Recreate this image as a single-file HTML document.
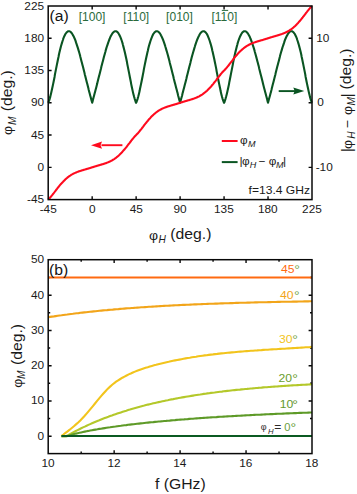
<!DOCTYPE html>
<html><head><meta charset="utf-8"><style>
html,body{margin:0;padding:0;background:#fff;width:357px;height:494px;overflow:hidden}
svg{display:block}
</style></head><body>
<svg width="357" height="494" viewBox="0 0 357 494" font-family='"Liberation Sans", sans-serif'><rect width="357" height="494" fill="#fff"/><path d="M92.17,199.6v-3.4M92.17,6.0v3.4M136.13,199.6v-3.4M136.13,6.0v3.4M180.10,199.6v-3.4M180.10,6.0v3.4M224.07,199.6v-3.4M224.07,6.0v3.4M268.03,199.6v-3.4M268.03,6.0v3.4M48.2,38.27h3.4M48.2,70.53h3.4M48.2,102.80h3.4M48.2,135.07h3.4M48.2,167.33h3.4M312.0,38.27h-3.4M312.0,102.80h-3.4M312.0,167.33h-3.4" stroke="#080808" stroke-width="1.4" fill="none"/><path d="M48.2,102.8L48.7,101.7L49.2,100.3L49.7,98.8L50.2,97.1L50.6,95.2L51.1,93.2L51.6,91.1L52.1,88.8L52.6,86.5L53.1,84.1L53.6,81.7L54.1,79.2L54.6,76.7L55.0,74.1L55.5,71.6L56.0,69.1L56.5,66.6L57.0,64.1L57.5,61.7L58.0,59.3L58.5,57.0L58.9,54.8L59.4,52.6L59.9,50.5L60.4,48.5L60.9,46.6L61.4,44.8L61.9,43.1L62.4,41.5L62.9,40.0L63.3,38.6L63.8,37.4L64.3,36.2L64.8,35.2L65.3,34.2L65.8,33.5L66.3,32.8L66.8,32.2L67.3,31.8L67.7,31.5L68.2,31.3L68.7,31.2L69.2,31.2L69.7,31.4L70.2,31.6L70.7,32.0L71.2,32.5L71.6,33.0L72.1,33.7L72.6,34.5L73.1,35.4L73.6,36.3L74.1,37.4L74.6,38.5L75.1,39.7L75.6,41.0L76.0,42.4L76.5,43.8L77.0,45.3L77.5,46.8L78.0,48.4L78.5,50.1L79.0,51.8L79.5,53.5L80.0,55.3L80.4,57.1L80.9,59.0L81.4,60.9L81.9,62.8L82.4,64.7L82.9,66.6L83.4,68.5L83.9,70.5L84.4,72.4L84.8,74.4L85.3,76.3L85.8,78.3L86.3,80.2L86.8,82.2L87.3,84.1L87.8,86.0L88.3,87.9L88.7,89.8L89.2,91.7L89.7,93.6L90.2,95.5L90.7,97.3L91.2,99.1L91.7,101.0L92.2,102.8L92.7,101.0L93.1,99.1L93.6,97.3L94.1,95.5L94.6,93.6L95.1,91.7L95.6,89.8L96.1,87.9L96.6,86.0L97.1,84.1L97.5,82.2L98.0,80.2L98.5,78.3L99.0,76.3L99.5,74.4L100.0,72.4L100.5,70.5L101.0,68.5L101.4,66.6L101.9,64.7L102.4,62.8L102.9,60.9L103.4,59.0L103.9,57.1L104.4,55.3L104.9,53.5L105.4,51.8L105.8,50.1L106.3,48.4L106.8,46.8L107.3,45.3L107.8,43.8L108.3,42.4L108.8,41.0L109.3,39.7L109.8,38.5L110.2,37.4L110.7,36.3L111.2,35.4L111.7,34.5L112.2,33.7L112.7,33.0L113.2,32.5L113.7,32.0L114.2,31.6L114.6,31.4L115.1,31.2L115.6,31.2L116.1,31.3L116.6,31.5L117.1,31.8L117.6,32.2L118.1,32.8L118.5,33.5L119.0,34.2L119.5,35.2L120.0,36.2L120.5,37.4L121.0,38.6L121.5,40.0L122.0,41.5L122.5,43.1L122.9,44.8L123.4,46.6L123.9,48.5L124.4,50.5L124.9,52.6L125.4,54.8L125.9,57.0L126.4,59.3L126.9,61.7L127.3,64.1L127.8,66.6L128.3,69.1L128.8,71.6L129.3,74.1L129.8,76.7L130.3,79.2L130.8,81.7L131.2,84.1L131.7,86.5L132.2,88.8L132.7,91.1L133.2,93.2L133.7,95.2L134.2,97.1L134.7,98.8L135.2,100.3L135.6,101.7L136.1,102.8L136.6,101.7L137.1,100.3L137.6,98.8L138.1,97.1L138.6,95.2L139.1,93.2L139.6,91.1L140.0,88.8L140.5,86.5L141.0,84.1L141.5,81.7L142.0,79.2L142.5,76.7L143.0,74.1L143.5,71.6L143.9,69.1L144.4,66.6L144.9,64.1L145.4,61.7L145.9,59.3L146.4,57.0L146.9,54.8L147.4,52.6L147.9,50.5L148.3,48.5L148.8,46.6L149.3,44.8L149.8,43.1L150.3,41.5L150.8,40.0L151.3,38.6L151.8,37.4L152.3,36.2L152.7,35.2L153.2,34.2L153.7,33.5L154.2,32.8L154.7,32.2L155.2,31.8L155.7,31.5L156.2,31.3L156.7,31.2L157.1,31.2L157.6,31.4L158.1,31.6L158.6,32.0L159.1,32.5L159.6,33.0L160.1,33.7L160.6,34.5L161.0,35.4L161.5,36.3L162.0,37.4L162.5,38.5L163.0,39.7L163.5,41.0L164.0,42.4L164.5,43.8L165.0,45.3L165.4,46.8L165.9,48.4L166.4,50.1L166.9,51.8L167.4,53.5L167.9,55.3L168.4,57.1L168.9,59.0L169.4,60.9L169.8,62.8L170.3,64.7L170.8,66.6L171.3,68.5L171.8,70.5L172.3,72.4L172.8,74.4L173.3,76.3L173.7,78.3L174.2,80.2L174.7,82.2L175.2,84.1L175.7,86.0L176.2,87.9L176.7,89.8L177.2,91.7L177.7,93.6L178.1,95.5L178.6,97.3L179.1,99.1L179.6,101.0L180.1,102.8L180.6,101.0L181.1,99.1L181.6,97.3L182.1,95.5L182.5,93.6L183.0,91.7L183.5,89.8L184.0,87.9L184.5,86.0L185.0,84.1L185.5,82.2L186.0,80.2L186.5,78.3L186.9,76.3L187.4,74.4L187.9,72.4L188.4,70.5L188.9,68.5L189.4,66.6L189.9,64.7L190.4,62.8L190.8,60.9L191.3,59.0L191.8,57.1L192.3,55.3L192.8,53.5L193.3,51.8L193.8,50.1L194.3,48.4L194.8,46.8L195.2,45.3L195.7,43.8L196.2,42.4L196.7,41.0L197.2,39.7L197.7,38.5L198.2,37.4L198.7,36.3L199.2,35.4L199.6,34.5L200.1,33.7L200.6,33.0L201.1,32.5L201.6,32.0L202.1,31.6L202.6,31.4L203.1,31.2L203.5,31.2L204.0,31.3L204.5,31.5L205.0,31.8L205.5,32.2L206.0,32.8L206.5,33.5L207.0,34.2L207.5,35.2L207.9,36.2L208.4,37.4L208.9,38.6L209.4,40.0L209.9,41.5L210.4,43.1L210.9,44.8L211.4,46.6L211.9,48.5L212.3,50.5L212.8,52.6L213.3,54.8L213.8,57.0L214.3,59.3L214.8,61.7L215.3,64.1L215.8,66.6L216.3,69.1L216.7,71.6L217.2,74.1L217.7,76.7L218.2,79.2L218.7,81.7L219.2,84.1L219.7,86.5L220.2,88.8L220.6,91.1L221.1,93.2L221.6,95.2L222.1,97.1L222.6,98.8L223.1,100.3L223.6,101.7L224.1,102.8L224.6,101.7L225.0,100.3L225.5,98.8L226.0,97.1L226.5,95.2L227.0,93.2L227.5,91.1L228.0,88.8L228.5,86.5L229.0,84.1L229.4,81.7L229.9,79.2L230.4,76.7L230.9,74.1L231.4,71.6L231.9,69.1L232.4,66.6L232.9,64.1L233.3,61.7L233.8,59.3L234.3,57.0L234.8,54.8L235.3,52.6L235.8,50.5L236.3,48.5L236.8,46.6L237.3,44.8L237.7,43.1L238.2,41.5L238.7,40.0L239.2,38.6L239.7,37.4L240.2,36.2L240.7,35.2L241.2,34.2L241.7,33.5L242.1,32.8L242.6,32.2L243.1,31.8L243.6,31.5L244.1,31.3L244.6,31.2L245.1,31.2L245.6,31.4L246.1,31.6L246.5,32.0L247.0,32.5L247.5,33.0L248.0,33.7L248.5,34.5L249.0,35.4L249.5,36.3L250.0,37.4L250.4,38.5L250.9,39.7L251.4,41.0L251.9,42.4L252.4,43.8L252.9,45.3L253.4,46.8L253.9,48.4L254.4,50.1L254.8,51.8L255.3,53.5L255.8,55.3L256.3,57.1L256.8,59.0L257.3,60.9L257.8,62.8L258.3,64.7L258.8,66.6L259.2,68.5L259.7,70.5L260.2,72.4L260.7,74.4L261.2,76.3L261.7,78.3L262.2,80.2L262.7,82.2L263.1,84.1L263.6,86.0L264.1,87.9L264.6,89.8L265.1,91.7L265.6,93.6L266.1,95.5L266.6,97.3L267.1,99.1L267.5,101.0L268.0,102.8L268.5,101.0L269.0,99.1L269.5,97.3L270.0,95.5L270.5,93.6L271.0,91.7L271.5,89.8L271.9,87.9L272.4,86.0L272.9,84.1L273.4,82.2L273.9,80.2L274.4,78.3L274.9,76.3L275.4,74.4L275.8,72.4L276.3,70.5L276.8,68.5L277.3,66.6L277.8,64.7L278.3,62.8L278.8,60.9L279.3,59.0L279.8,57.1L280.2,55.3L280.7,53.5L281.2,51.8L281.7,50.1L282.2,48.4L282.7,46.8L283.2,45.3L283.7,43.8L284.2,42.4L284.6,41.0L285.1,39.7L285.6,38.5L286.1,37.4L286.6,36.3L287.1,35.4L287.6,34.5L288.1,33.7L288.6,33.0L289.0,32.5L289.5,32.0L290.0,31.6L290.5,31.4L291.0,31.2L291.5,31.2L292.0,31.3L292.5,31.5L292.9,31.8L293.4,32.2L293.9,32.8L294.4,33.5L294.9,34.2L295.4,35.2L295.9,36.2L296.4,37.4L296.9,38.6L297.3,40.0L297.8,41.5L298.3,43.1L298.8,44.8L299.3,46.6L299.8,48.5L300.3,50.5L300.8,52.6L301.3,54.8L301.7,57.0L302.2,59.3L302.7,61.7L303.2,64.1L303.7,66.6L304.2,69.1L304.7,71.6L305.2,74.1L305.6,76.7L306.1,79.2L306.6,81.7L307.1,84.1L307.6,86.5L308.1,88.8L308.6,91.1L309.1,93.2L309.6,95.2L310.0,97.1L310.5,98.8L311.0,100.3L311.5,101.7L312.0,102.8" stroke="#0a5522" stroke-width="2.1" fill="none" stroke-linejoin="round"/><path d="M48.2,199.6L48.7,199.1L49.2,198.6L49.7,198.1L50.2,197.5L50.6,197.0L51.1,196.4L51.6,195.8L52.1,195.2L52.6,194.6L53.1,193.9L53.6,193.3L54.1,192.7L54.6,192.0L55.0,191.4L55.5,190.8L56.0,190.1L56.5,189.5L57.0,188.9L57.5,188.2L58.0,187.6L58.5,187.0L58.9,186.4L59.4,185.8L59.9,185.2L60.4,184.6L60.9,184.0L61.4,183.5L61.9,182.9L62.4,182.4L62.9,181.9L63.3,181.4L63.8,180.9L64.3,180.4L64.8,179.9L65.3,179.4L65.8,179.0L66.3,178.6L66.8,178.1L67.3,177.7L67.7,177.3L68.2,177.0L68.7,176.6L69.2,176.2L69.7,175.9L70.2,175.6L70.7,175.2L71.2,174.9L71.6,174.6L72.1,174.4L72.6,174.1L73.1,173.8L73.6,173.6L74.1,173.3L74.6,173.1L75.1,172.9L75.6,172.7L76.0,172.5L76.5,172.3L77.0,172.1L77.5,171.9L78.0,171.7L78.5,171.5L79.0,171.3L79.5,171.2L80.0,171.0L80.4,170.9L80.9,170.7L81.4,170.6L81.9,170.4L82.4,170.3L82.9,170.1L83.4,170.0L83.9,169.8L84.4,169.7L84.8,169.6L85.3,169.4L85.8,169.3L86.3,169.1L86.8,169.0L87.3,168.8L87.8,168.7L88.3,168.5L88.7,168.4L89.2,168.3L89.7,168.1L90.2,168.0L90.7,167.8L91.2,167.6L91.7,167.5L92.2,167.3L92.7,167.2L93.1,167.0L93.6,166.9L94.1,166.7L94.6,166.6L95.1,166.4L95.6,166.3L96.1,166.1L96.6,166.0L97.1,165.8L97.5,165.7L98.0,165.5L98.5,165.4L99.0,165.3L99.5,165.1L100.0,165.0L100.5,164.8L101.0,164.7L101.4,164.5L101.9,164.4L102.4,164.3L102.9,164.1L103.4,164.0L103.9,163.8L104.4,163.6L104.9,163.5L105.4,163.3L105.8,163.2L106.3,163.0L106.8,162.8L107.3,162.6L107.8,162.4L108.3,162.2L108.8,162.0L109.3,161.8L109.8,161.6L110.2,161.3L110.7,161.1L111.2,160.8L111.7,160.6L112.2,160.3L112.7,160.0L113.2,159.7L113.7,159.4L114.2,159.1L114.6,158.8L115.1,158.4L115.6,158.1L116.1,157.7L116.6,157.3L117.1,156.9L117.6,156.5L118.1,156.1L118.5,155.7L119.0,155.2L119.5,154.8L120.0,154.3L120.5,153.8L121.0,153.3L121.5,152.8L122.0,152.3L122.5,151.7L122.9,151.2L123.4,150.6L123.9,150.1L124.4,149.5L124.9,148.9L125.4,148.3L125.9,147.7L126.4,147.1L126.9,146.4L127.3,145.8L127.8,145.2L128.3,144.5L128.8,143.9L129.3,143.3L129.8,142.6L130.3,142.0L130.8,141.4L131.2,140.7L131.7,140.1L132.2,139.5L132.7,138.9L133.2,138.3L133.7,137.7L134.2,137.1L134.7,136.6L135.2,136.1L135.6,135.5L136.1,135.1L136.6,134.6L137.1,134.1L137.6,133.5L138.1,133.0L138.6,132.4L139.1,131.8L139.6,131.3L140.0,130.6L140.5,130.0L141.0,129.4L141.5,128.8L142.0,128.1L142.5,127.5L143.0,126.9L143.5,126.2L143.9,125.6L144.4,124.9L144.9,124.3L145.4,123.7L145.9,123.1L146.4,122.5L146.9,121.8L147.4,121.2L147.9,120.7L148.3,120.1L148.8,119.5L149.3,118.9L149.8,118.4L150.3,117.9L150.8,117.3L151.3,116.8L151.8,116.3L152.3,115.8L152.7,115.4L153.2,114.9L153.7,114.5L154.2,114.0L154.7,113.6L155.2,113.2L155.7,112.8L156.2,112.4L156.7,112.1L157.1,111.7L157.6,111.4L158.1,111.0L158.6,110.7L159.1,110.4L159.6,110.1L160.1,109.8L160.6,109.6L161.0,109.3L161.5,109.0L162.0,108.8L162.5,108.6L163.0,108.3L163.5,108.1L164.0,107.9L164.5,107.7L165.0,107.5L165.4,107.3L165.9,107.2L166.4,107.0L166.9,106.8L167.4,106.6L167.9,106.5L168.4,106.3L168.9,106.2L169.4,106.0L169.8,105.9L170.3,105.7L170.8,105.6L171.3,105.4L171.8,105.3L172.3,105.2L172.8,105.0L173.3,104.9L173.7,104.7L174.2,104.6L174.7,104.5L175.2,104.3L175.7,104.2L176.2,104.0L176.7,103.9L177.2,103.7L177.7,103.6L178.1,103.4L178.6,103.3L179.1,103.1L179.6,103.0L180.1,102.8L180.6,102.6L181.1,102.5L181.6,102.3L182.1,102.2L182.5,102.0L183.0,101.9L183.5,101.7L184.0,101.6L184.5,101.4L185.0,101.3L185.5,101.1L186.0,101.0L186.5,100.9L186.9,100.7L187.4,100.6L187.9,100.4L188.4,100.3L188.9,100.2L189.4,100.0L189.9,99.9L190.4,99.7L190.8,99.6L191.3,99.4L191.8,99.3L192.3,99.1L192.8,99.0L193.3,98.8L193.8,98.6L194.3,98.4L194.8,98.3L195.2,98.1L195.7,97.9L196.2,97.7L196.7,97.5L197.2,97.3L197.7,97.0L198.2,96.8L198.7,96.6L199.2,96.3L199.6,96.0L200.1,95.8L200.6,95.5L201.1,95.2L201.6,94.9L202.1,94.6L202.6,94.2L203.1,93.9L203.5,93.5L204.0,93.2L204.5,92.8L205.0,92.4L205.5,92.0L206.0,91.6L206.5,91.1L207.0,90.7L207.5,90.2L207.9,89.8L208.4,89.3L208.9,88.8L209.4,88.3L209.9,87.7L210.4,87.2L210.9,86.7L211.4,86.1L211.9,85.5L212.3,84.9L212.8,84.4L213.3,83.8L213.8,83.1L214.3,82.5L214.8,81.9L215.3,81.3L215.8,80.7L216.3,80.0L216.7,79.4L217.2,78.7L217.7,78.1L218.2,77.5L218.7,76.8L219.2,76.2L219.7,75.6L220.2,75.0L220.6,74.3L221.1,73.8L221.6,73.2L222.1,72.6L222.6,72.1L223.1,71.5L223.6,71.0L224.1,70.5L224.6,70.1L225.0,69.5L225.5,69.0L226.0,68.5L226.5,67.9L227.0,67.3L227.5,66.7L228.0,66.1L228.5,65.5L229.0,64.9L229.4,64.2L229.9,63.6L230.4,63.0L230.9,62.3L231.4,61.7L231.9,61.1L232.4,60.4L232.9,59.8L233.3,59.2L233.8,58.5L234.3,57.9L234.8,57.3L235.3,56.7L235.8,56.1L236.3,55.5L236.8,55.0L237.3,54.4L237.7,53.9L238.2,53.3L238.7,52.8L239.2,52.3L239.7,51.8L240.2,51.3L240.7,50.8L241.2,50.4L241.7,49.9L242.1,49.5L242.6,49.1L243.1,48.7L243.6,48.3L244.1,47.9L244.6,47.5L245.1,47.2L245.6,46.8L246.1,46.5L246.5,46.2L247.0,45.9L247.5,45.6L248.0,45.3L248.5,45.0L249.0,44.8L249.5,44.5L250.0,44.3L250.4,44.0L250.9,43.8L251.4,43.6L251.9,43.4L252.4,43.2L252.9,43.0L253.4,42.8L253.9,42.6L254.4,42.4L254.8,42.3L255.3,42.1L255.8,42.0L256.3,41.8L256.8,41.6L257.3,41.5L257.8,41.3L258.3,41.2L258.8,41.1L259.2,40.9L259.7,40.8L260.2,40.6L260.7,40.5L261.2,40.3L261.7,40.2L262.2,40.1L262.7,39.9L263.1,39.8L263.6,39.6L264.1,39.5L264.6,39.3L265.1,39.2L265.6,39.0L266.1,38.9L266.6,38.7L267.1,38.6L267.5,38.4L268.0,38.3L268.5,38.1L269.0,38.0L269.5,37.8L270.0,37.6L270.5,37.5L271.0,37.3L271.5,37.2L271.9,37.1L272.4,36.9L272.9,36.8L273.4,36.6L273.9,36.5L274.4,36.3L274.9,36.2L275.4,36.0L275.8,35.9L276.3,35.8L276.8,35.6L277.3,35.5L277.8,35.3L278.3,35.2L278.8,35.0L279.3,34.9L279.8,34.7L280.2,34.6L280.7,34.4L281.2,34.3L281.7,34.1L282.2,33.9L282.7,33.7L283.2,33.5L283.7,33.3L284.2,33.1L284.6,32.9L285.1,32.7L285.6,32.5L286.1,32.3L286.6,32.0L287.1,31.8L287.6,31.5L288.1,31.2L288.6,31.0L289.0,30.7L289.5,30.4L290.0,30.0L290.5,29.7L291.0,29.4L291.5,29.0L292.0,28.6L292.5,28.3L292.9,27.9L293.4,27.5L293.9,27.0L294.4,26.6L294.9,26.2L295.4,25.7L295.9,25.2L296.4,24.7L296.9,24.2L297.3,23.7L297.8,23.2L298.3,22.7L298.8,22.1L299.3,21.6L299.8,21.0L300.3,20.4L300.8,19.8L301.3,19.2L301.7,18.6L302.2,18.0L302.7,17.4L303.2,16.7L303.7,16.1L304.2,15.5L304.7,14.8L305.2,14.2L305.6,13.6L306.1,12.9L306.6,12.3L307.1,11.7L307.6,11.0L308.1,10.4L308.6,9.8L309.1,9.2L309.6,8.6L310.0,8.1L310.5,7.5L311.0,7.0L311.5,6.5L312.0,6.0" stroke="#ff0a1e" stroke-width="2.1" fill="none" stroke-linejoin="round"/><rect x="48.2" y="6.0" width="263.80" height="193.60" stroke="#080808" stroke-width="1.5" fill="none"/><path d="M101.5,145.2H122.4" stroke="#ff0a1e" stroke-width="1.9" fill="none"/><path d="M91,145.2L102,141.6L100.6,145.2L102,148.8Z" fill="#ff0a1e"/><path d="M278.7,91.1H295" stroke="#0a5522" stroke-width="1.9" fill="none"/><path d="M304.3,91.1L293.3,87.6L294.7,91.1L293.3,94.6Z" fill="#0a5522"/><text transform="translate(24.36,9.50) scale(1.02,1)" font-size="11.6" fill="#1a1a1a">225</text><text transform="translate(24.32,41.77) scale(1.02,1)" font-size="11.6" fill="#1a1a1a">180</text><text transform="translate(24.36,74.03) scale(1.02,1)" font-size="11.6" fill="#1a1a1a">135</text><text transform="translate(30.90,106.30) scale(1.02,1)" font-size="11.6" fill="#1a1a1a">90</text><text transform="translate(30.94,138.57) scale(1.02,1)" font-size="11.6" fill="#1a1a1a">45</text><text transform="translate(37.48,170.83) scale(1.02,1)" font-size="11.6" fill="#1a1a1a">0</text><text transform="translate(27.00,203.10) scale(1.02,1)" font-size="11.6" fill="#1a1a1a">-45</text><text transform="translate(39.64,212.90) scale(1.02,1)" font-size="11.6" fill="#1a1a1a">-45</text><text transform="translate(88.88,212.90) scale(1.02,1)" font-size="11.6" fill="#1a1a1a">0</text><text transform="translate(129.67,212.90) scale(1.02,1)" font-size="11.6" fill="#1a1a1a">45</text><text transform="translate(173.47,212.90) scale(1.02,1)" font-size="11.6" fill="#1a1a1a">90</text><text transform="translate(213.99,212.90) scale(1.02,1)" font-size="11.6" fill="#1a1a1a">135</text><text transform="translate(257.94,212.90) scale(1.02,1)" font-size="11.6" fill="#1a1a1a">180</text><text transform="translate(302.08,212.90) scale(1.02,1)" font-size="11.6" fill="#1a1a1a">225</text><text transform="translate(316.30,41.77) scale(1.02,1)" font-size="11.6" fill="#1a1a1a">10</text><text transform="translate(317.14,106.30) scale(1.02,1)" font-size="11.6" fill="#1a1a1a">0</text><text transform="translate(315.67,170.83) scale(1.02,1)" font-size="11.6" fill="#1a1a1a">-10</text><text transform="translate(78.70,20.60) scale(0.98,1)" font-size="12.3" fill="#2a6a3c">[100]</text><text transform="translate(123.30,20.60) scale(0.98,1)" font-size="12.3" fill="#2a6a3c">[110]</text><text transform="translate(166.10,20.60) scale(0.98,1)" font-size="12.3" fill="#2a6a3c">[010]</text><text transform="translate(211.40,20.60) scale(0.98,1)" font-size="12.3" fill="#2a6a3c">[110]</text><path d="M221.8,10.4H228.2" stroke="#2a6a3c" stroke-width="1"/><text transform="translate(49.42,21.00) scale(1.05,1)" font-size="15" fill="#141414">(a)</text><path d="M221.8,141H237.6" stroke="#ff0a1e" stroke-width="2" fill="none"/><path d="M221.8,162.1H237.6" stroke="#0a5522" stroke-width="2" fill="none"/><text transform="translate(240.11,143.80) scale(1.05,1)" font-size="11.2" fill="#1a1a1a">φ</text><text transform="translate(248.02,146.70) scale(1.05,1)" font-size="8.6" fill="#1a1a1a" font-style="italic">M</text><text transform="translate(239.62,164.80) scale(1.05,1)" font-size="11.5" fill="#1a1a1a">|</text><text transform="translate(242.11,164.60) scale(1.05,1)" font-size="11.2" fill="#1a1a1a">φ</text><text transform="translate(249.72,167.70) scale(1.05,1)" font-size="8.6" fill="#1a1a1a" font-style="italic">H</text><text transform="translate(258.42,164.90) scale(1.05,1)" font-size="11.2" fill="#1a1a1a">−</text><text transform="translate(268.81,165.00) scale(1.05,1)" font-size="11.2" fill="#1a1a1a">φ</text><text transform="translate(275.92,167.70) scale(1.05,1)" font-size="8.6" fill="#1a1a1a" font-style="italic">M</text><text transform="translate(282.92,164.80) scale(1.05,1)" font-size="11.5" fill="#1a1a1a">|</text><text transform="translate(248.59,194.20) scale(1.05,1)" font-size="11.5" fill="#1a1a1a">f=13.4 GHz</text><text transform="translate(148.92,239.50) scale(1.05,1)" font-size="13.3" fill="#1a1a1a">φ</text><text transform="translate(158.49,243.10) scale(0.96,1)" font-size="10.6" fill="#1a1a1a" font-style="italic">H</text><text transform="translate(170.32,238.90) scale(1.05,1)" font-size="15" fill="#1a1a1a">(deg.)</text><text transform="translate(12.30,134.98) rotate(-90) scale(1.05,1)" font-size="13.3" fill="#1a1a1a">φ</text><text transform="translate(16.30,125.01) rotate(-90) scale(0.96,1)" font-size="10.6" fill="#1a1a1a" font-style="italic">M</text><text transform="translate(12.30,111.28) rotate(-90) scale(1.05,1)" font-size="15" fill="#1a1a1a">(deg.)</text><text transform="translate(351.80,152.31) rotate(-90) scale(1.05,1)" font-size="15" fill="#1a1a1a">|</text><text transform="translate(351.70,148.98) rotate(-90) scale(1.05,1)" font-size="13.3" fill="#1a1a1a">φ</text><text transform="translate(355.10,138.71) rotate(-90) scale(0.96,1)" font-size="10.6" fill="#1a1a1a" font-style="italic">H</text><text transform="translate(352.30,127.90) rotate(-90) scale(1.05,1)" font-size="13.5" fill="#1a1a1a">−</text><text transform="translate(351.70,114.98) rotate(-90) scale(1.05,1)" font-size="13.3" fill="#1a1a1a">φ</text><text transform="translate(355.10,105.41) rotate(-90) scale(0.96,1)" font-size="10.6" fill="#1a1a1a" font-style="italic">M</text><text transform="translate(351.80,97.41) rotate(-90) scale(1.05,1)" font-size="15" fill="#1a1a1a">|</text><text transform="translate(351.40,89.48) rotate(-90) scale(1.05,1)" font-size="15" fill="#1a1a1a">(deg.)</text><path d="M114.15,453.6v-3.4M114.15,259.7v3.4M180.10,453.6v-3.4M180.10,259.7v3.4M246.05,453.6v-3.4M246.05,259.7v3.4M81.18,453.6v-2.0M81.18,259.7v2.0M147.12,453.6v-2.0M147.12,259.7v2.0M213.07,453.6v-2.0M213.07,259.7v2.0M279.03,453.6v-2.0M279.03,259.7v2.0M48.2,436.20h3.4M312.0,436.20h-3.4M48.2,400.95h3.4M312.0,400.95h-3.4M48.2,365.70h3.4M312.0,365.70h-3.4M48.2,330.45h3.4M312.0,330.45h-3.4M48.2,295.20h3.4M312.0,295.20h-3.4M48.2,418.57h2.0M312.0,418.57h-2.0M48.2,383.32h2.0M312.0,383.32h-2.0M48.2,348.07h2.0M312.0,348.07h-2.0M48.2,312.82h2.0M312.0,312.82h-2.0M48.2,277.57h2.0M312.0,277.57h-2.0" stroke="#080808" stroke-width="1.4" fill="none"/><path d="M48.2,277.57H312.0" stroke="#ff6a10" stroke-width="2.1" fill="none"/><path d="M48.2,317.2L50.1,316.9L52.0,316.6L53.9,316.4L55.8,316.1L57.7,315.8L59.6,315.5L61.5,315.3L63.4,315.0L65.3,314.7L67.2,314.5L69.1,314.2L71.0,314.0L72.9,313.8L74.8,313.5L76.7,313.3L78.6,313.1L80.5,312.8L82.4,312.6L84.3,312.4L86.2,312.2L88.1,312.0L90.0,311.8L91.9,311.6L93.7,311.4L95.6,311.2L97.5,311.0L99.4,310.8L101.3,310.6L103.2,310.4L105.1,310.2L107.0,310.1L108.9,309.9L110.8,309.7L112.7,309.6L114.6,309.4L116.5,309.2L118.4,309.1L120.3,308.9L122.2,308.8L124.1,308.6L126.0,308.4L127.9,308.3L129.8,308.2L131.7,308.0L133.6,307.9L135.5,307.7L137.4,307.6L139.3,307.5L141.2,307.3L143.1,307.2L145.0,307.1L146.9,307.0L148.8,306.8L150.7,306.7L152.6,306.6L154.5,306.5L156.4,306.4L158.3,306.3L160.2,306.1L162.1,306.0L164.0,305.9L165.9,305.8L167.8,305.7L169.7,305.6L171.6,305.5L173.5,305.4L175.4,305.3L177.3,305.2L179.2,305.1L181.0,305.0L182.9,304.9L184.8,304.9L186.7,304.8L188.6,304.7L190.5,304.6L192.4,304.5L194.3,304.4L196.2,304.4L198.1,304.3L200.0,304.2L201.9,304.1L203.8,304.0L205.7,304.0L207.6,303.9L209.5,303.8L211.4,303.8L213.3,303.7L215.2,303.6L217.1,303.6L219.0,303.5L220.9,303.4L222.8,303.4L224.7,303.3L226.6,303.2L228.5,303.2L230.4,303.1L232.3,303.1L234.2,303.0L236.1,302.9L238.0,302.9L239.9,302.8L241.8,302.8L243.7,302.7L245.6,302.7L247.5,302.6L249.4,302.6L251.3,302.5L253.2,302.5L255.1,302.4L257.0,302.4L258.9,302.3L260.8,302.3L262.7,302.2L264.6,302.2L266.5,302.2L268.3,302.1L270.2,302.1L272.1,302.0L274.0,302.0L275.9,302.0L277.8,301.9L279.7,301.9L281.6,301.8L283.5,301.8L285.4,301.8L287.3,301.7L289.2,301.7L291.1,301.7L293.0,301.6L294.9,301.6L296.8,301.6L298.7,301.5L300.6,301.5L302.5,301.5L304.4,301.4L306.3,301.4L308.2,301.4L310.1,301.3L312.0,301.3" stroke="#f2a51a" stroke-width="2.1" fill="none"/><path d="M61.3,436.0L63.4,434.5L65.5,432.9L67.6,431.3L69.7,429.7L71.8,428.0L73.9,426.3L76.0,424.4L78.2,422.5L80.3,420.4L82.4,418.2L84.5,416.0L86.6,413.6L88.7,411.1L90.8,408.6L92.9,406.1L95.0,403.5L97.1,400.9L99.2,398.4L101.3,395.9L103.4,393.5L105.5,391.2L107.6,388.9L109.8,386.9L111.9,385.0L114.0,383.3L116.1,381.7L118.2,380.3L120.3,379.0L122.4,377.7L124.5,376.6L126.6,375.5L128.7,374.4L130.8,373.5L132.9,372.5L135.0,371.6L137.1,370.8L139.2,370.0L141.4,369.2L143.5,368.5L145.6,367.8L147.7,367.2L149.8,366.5L151.9,365.9L154.0,365.3L156.1,364.8L158.2,364.2L160.3,363.7L162.4,363.2L164.5,362.7L166.6,362.2L168.7,361.8L170.8,361.3L173.0,360.8L175.1,360.4L177.2,360.0L179.3,359.6L181.4,359.2L183.5,358.8L185.6,358.4L187.7,358.0L189.8,357.7L191.9,357.3L194.0,357.0L196.1,356.7L198.2,356.3L200.3,356.0L202.5,355.7L204.6,355.4L206.7,355.2L208.8,354.9L210.9,354.6L213.0,354.4L215.1,354.1L217.2,353.9L219.3,353.6L221.4,353.4L223.5,353.2L225.6,353.0L227.7,352.8L229.8,352.6L231.9,352.4L234.1,352.2L236.2,352.0L238.3,351.8L240.4,351.6L242.5,351.5L244.6,351.3L246.7,351.1L248.8,351.0L250.9,350.8L253.0,350.7L255.1,350.5L257.2,350.4L259.3,350.2L261.4,350.1L263.5,349.9L265.7,349.8L267.8,349.7L269.9,349.5L272.0,349.4L274.1,349.3L276.2,349.2L278.3,349.0L280.4,348.9L282.5,348.8L284.6,348.7L286.7,348.5L288.8,348.4L290.9,348.3L293.0,348.1L295.1,348.0L297.3,347.9L299.4,347.8L301.5,347.6L303.6,347.5L305.7,347.3L307.8,347.2L309.9,347.1L312.0,346.9" stroke="#f2c41c" stroke-width="2.1" fill="none"/><path d="M61.4,436.2L63.2,436.2L65.0,436.2L66.8,435.9L68.6,434.9L70.4,433.9L72.2,432.9L74.0,431.9L75.8,431.0L77.6,430.1L79.4,429.2L81.2,428.3L83.0,427.4L84.8,426.6L86.6,425.7L88.4,424.9L90.2,424.1L92.0,423.3L93.8,422.5L95.6,421.7L97.4,421.0L99.3,420.3L101.1,419.5L102.9,418.8L104.7,418.1L106.5,417.4L108.3,416.8L110.1,416.1L111.9,415.5L113.7,414.8L115.5,414.2L117.3,413.6L119.1,413.0L120.9,412.4L122.7,411.8L124.5,411.2L126.3,410.7L128.1,410.1L129.9,409.6L131.7,409.0L133.5,408.5L135.3,408.0L137.1,407.5L138.9,407.0L140.7,406.5L142.5,406.0L144.3,405.6L146.1,405.1L147.9,404.6L149.7,404.2L151.5,403.8L153.3,403.3L155.1,402.9L156.9,402.5L158.7,402.1L160.6,401.7L162.4,401.3L164.2,400.9L166.0,400.5L167.8,400.2L169.6,399.8L171.4,399.4L173.2,399.1L175.0,398.7L176.8,398.4L178.6,398.0L180.4,397.7L182.2,397.4L184.0,397.1L185.8,396.8L187.6,396.5L189.4,396.2L191.2,395.9L193.0,395.6L194.8,395.3L196.6,395.0L198.4,394.7L200.2,394.5L202.0,394.2L203.8,393.9L205.6,393.7L207.4,393.4L209.2,393.2L211.0,392.9L212.8,392.7L214.6,392.5L216.4,392.2L218.2,392.0L220.0,391.8L221.9,391.6L223.7,391.3L225.5,391.1L227.3,390.9L229.1,390.7L230.9,390.5L232.7,390.3L234.5,390.1L236.3,389.9L238.1,389.7L239.9,389.6L241.7,389.4L243.5,389.2L245.3,389.0L247.1,388.9L248.9,388.7L250.7,388.5L252.5,388.4L254.3,388.2L256.1,388.0L257.9,387.9L259.7,387.7L261.5,387.6L263.3,387.4L265.1,387.3L266.9,387.2L268.7,387.0L270.5,386.9L272.3,386.7L274.1,386.6L275.9,386.5L277.7,386.4L279.5,386.2L281.3,386.1L283.2,386.0L285.0,385.9L286.8,385.8L288.6,385.6L290.4,385.5L292.2,385.4L294.0,385.3L295.8,385.2L297.6,385.1L299.4,385.0L301.2,384.9L303.0,384.8L304.8,384.7L306.6,384.6L308.4,384.5L310.2,384.4L312.0,384.3" stroke="#b4c82a" stroke-width="2.1" fill="none"/><path d="M61.4,436.2L63.2,436.2L65.0,436.2L66.8,436.2L68.6,435.8L70.4,435.2L72.2,434.6L74.0,434.1L75.8,433.6L77.6,433.2L79.4,432.8L81.2,432.4L83.0,432.0L84.8,431.6L86.6,431.2L88.4,430.9L90.2,430.5L92.0,430.2L93.8,429.9L95.6,429.6L97.4,429.3L99.3,428.9L101.1,428.7L102.9,428.4L104.7,428.1L106.5,427.8L108.3,427.5L110.1,427.3L111.9,427.0L113.7,426.7L115.5,426.5L117.3,426.2L119.1,426.0L120.9,425.8L122.7,425.5L124.5,425.3L126.3,425.1L128.1,424.8L129.9,424.6L131.7,424.4L133.5,424.2L135.3,424.0L137.1,423.8L138.9,423.6L140.7,423.4L142.5,423.2L144.3,423.0L146.1,422.8L147.9,422.6L149.7,422.4L151.5,422.2L153.3,422.1L155.1,421.9L156.9,421.7L158.7,421.5L160.6,421.4L162.4,421.2L164.2,421.0L166.0,420.9L167.8,420.7L169.6,420.6L171.4,420.4L173.2,420.2L175.0,420.1L176.8,419.9L178.6,419.8L180.4,419.6L182.2,419.5L184.0,419.4L185.8,419.2L187.6,419.1L189.4,418.9L191.2,418.8L193.0,418.7L194.8,418.5L196.6,418.4L198.4,418.3L200.2,418.1L202.0,418.0L203.8,417.9L205.6,417.8L207.4,417.6L209.2,417.5L211.0,417.4L212.8,417.3L214.6,417.2L216.4,417.1L218.2,416.9L220.0,416.8L221.9,416.7L223.7,416.6L225.5,416.5L227.3,416.4L229.1,416.3L230.9,416.2L232.7,416.1L234.5,416.0L236.3,415.9L238.1,415.8L239.9,415.7L241.7,415.6L243.5,415.5L245.3,415.4L247.1,415.3L248.9,415.2L250.7,415.1L252.5,415.0L254.3,414.9L256.1,414.8L257.9,414.7L259.7,414.7L261.5,414.6L263.3,414.5L265.1,414.4L266.9,414.3L268.7,414.2L270.5,414.1L272.3,414.1L274.1,414.0L275.9,413.9L277.7,413.8L279.5,413.7L281.3,413.7L283.2,413.6L285.0,413.5L286.8,413.4L288.6,413.4L290.4,413.3L292.2,413.2L294.0,413.1L295.8,413.1L297.6,413.0L299.4,412.9L301.2,412.9L303.0,412.8L304.8,412.7L306.6,412.7L308.4,412.6L310.2,412.5L312.0,412.5" stroke="#5e9a28" stroke-width="2.1" fill="none"/><path d="M61.5,436.1H312.0" stroke="#0b5a22" stroke-width="2.0" fill="none"/><rect x="48.2" y="259.7" width="263.80" height="193.90" stroke="#080808" stroke-width="1.5" fill="none"/><text transform="translate(37.48,439.70) scale(1.02,1)" font-size="11.6" fill="#1a1a1a">0</text><text transform="translate(30.90,404.45) scale(1.02,1)" font-size="11.6" fill="#1a1a1a">10</text><text transform="translate(30.90,369.20) scale(1.02,1)" font-size="11.6" fill="#1a1a1a">20</text><text transform="translate(30.90,333.95) scale(1.02,1)" font-size="11.6" fill="#1a1a1a">30</text><text transform="translate(30.90,298.70) scale(1.02,1)" font-size="11.6" fill="#1a1a1a">40</text><text transform="translate(30.90,263.45) scale(1.02,1)" font-size="11.6" fill="#1a1a1a">50</text><text transform="translate(41.40,467.00) scale(1.02,1)" font-size="11.6" fill="#1a1a1a">10</text><text transform="translate(107.42,467.00) scale(1.02,1)" font-size="11.6" fill="#1a1a1a">12</text><text transform="translate(173.24,467.00) scale(1.02,1)" font-size="11.6" fill="#1a1a1a">14</text><text transform="translate(239.28,467.00) scale(1.02,1)" font-size="11.6" fill="#1a1a1a">16</text><text transform="translate(305.23,467.00) scale(1.02,1)" font-size="11.6" fill="#1a1a1a">18</text><text transform="translate(48.92,275.00) scale(1.05,1)" font-size="15" fill="#141414">(b)</text><text transform="translate(154.98,489.40) scale(1.05,1)" font-size="15" fill="#1a1a1a">f (GHz)</text><text transform="translate(21.80,387.78) rotate(-90) scale(1.05,1)" font-size="13.3" fill="#1a1a1a">φ</text><text transform="translate(25.40,379.01) rotate(-90) scale(0.96,1)" font-size="10.6" fill="#1a1a1a" font-style="italic">M</text><text transform="translate(21.70,365.08) rotate(-90) scale(1.05,1)" font-size="15" fill="#1a1a1a">(deg.)</text><text transform="translate(281.02,273.40) scale(1.05,1)" font-size="11.6" fill="#ff6a10">45</text><text transform="translate(294.26,274.30) scale(1.05,1)" font-size="13.5" fill="#78a850">°</text><text transform="translate(280.02,298.60) scale(1.05,1)" font-size="11.6" fill="#f2a51a">40</text><text transform="translate(293.96,299.50) scale(1.05,1)" font-size="13.5" fill="#78a850">°</text><text transform="translate(279.04,343.40) scale(1.05,1)" font-size="11.6" fill="#f2c41c">30</text><text transform="translate(292.36,344.30) scale(1.05,1)" font-size="13.5" fill="#78a850">°</text><text transform="translate(278.49,381.80) scale(1.05,1)" font-size="11.6" fill="#6a9e2e">20</text><text transform="translate(292.36,382.70) scale(1.05,1)" font-size="13.5" fill="#6a9e2e">°</text><text transform="translate(279.77,408.40) scale(1.05,1)" font-size="11.6" fill="#64982e">10</text><text transform="translate(292.36,409.30) scale(1.05,1)" font-size="13.5" fill="#64982e">°</text><text transform="translate(260.73,430.10) scale(1.05,1)" font-size="8.6" fill="#2a2a2a">φ</text><text transform="translate(267.96,434.00) scale(1.05,1)" font-size="7.4" fill="#2a2a2a" font-style="italic">H</text><text transform="translate(274.21,431.20) scale(1.05,1)" font-size="11.5" fill="#2a2a2a">=</text><text transform="translate(284.37,431.00) scale(1.05,1)" font-size="10.6" fill="#6aa040">0</text><text transform="translate(290.46,431.90) scale(1.05,1)" font-size="13.5" fill="#6aa040">°</text></svg>
</body></html>
